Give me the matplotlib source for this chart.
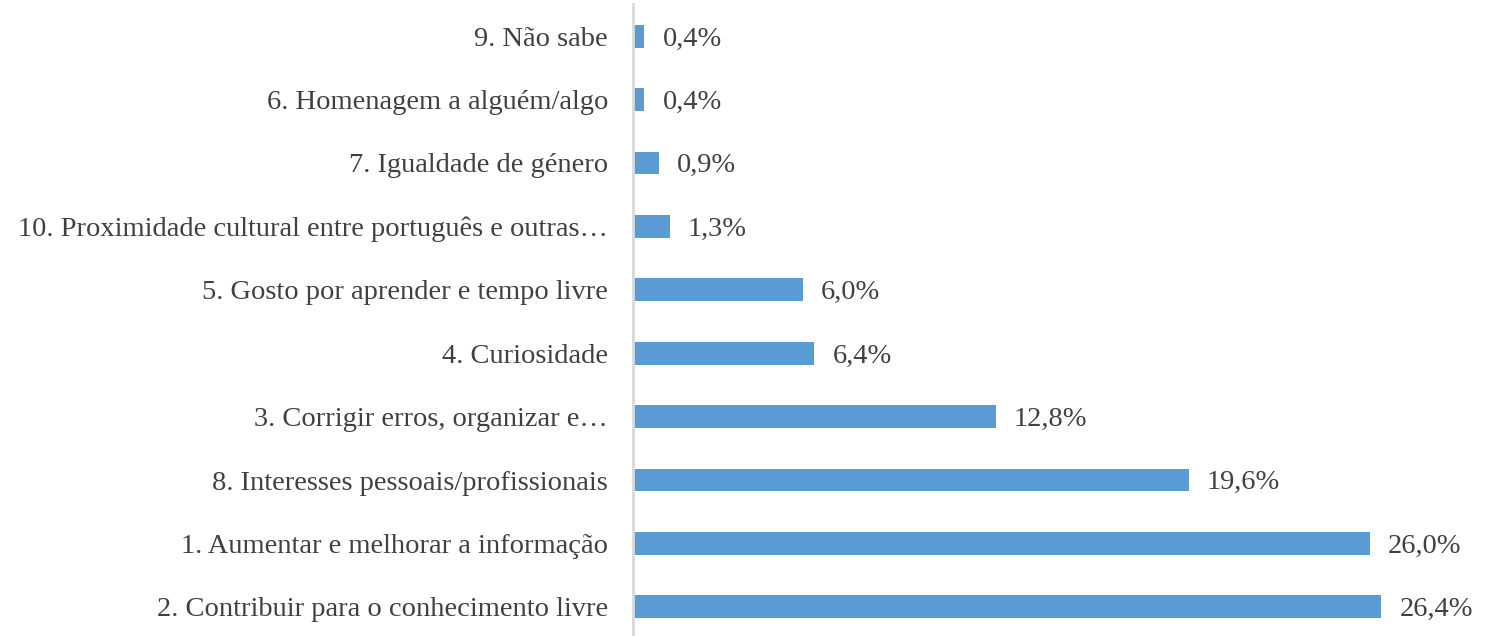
import matplotlib.pyplot as plt

# categories listed bottom to top
categorias = [
    "2. Contribuir para o conhecimento livre",
    "1. Aumentar e melhorar a informação",
    "8. Interesses pessoais/profissionais",
    "3. Corrigir erros, organizar e…",
    "4. Curiosidade",
    "5. Gosto por aprender e tempo livre",
    "10. Proximidade cultural entre português e outras…",
    "7. Igualdade de género",
    "6. Homenagem a alguém/algo",
    "9. Não sabe",
]
valores = [26.4, 26.0, 19.6, 12.8, 6.4, 6.0, 1.3, 0.9, 0.4, 0.4]

plt.rcParams['font.family'] = ['Liberation Serif', 'DejaVu Serif']
cor_texto = '#404040'

fig = plt.figure(figsize=(14.86, 6.36), dpi=100)
ax = fig.add_axes([0.426, -0.004, 0.534, 0.997])

pos = range(len(categorias))
ax.barh(pos, valores, height=0.36, color='#5b9bd5')
ax.set_ylim(-0.5, len(categorias) - 0.5)
ax.set_xlim(0, 28)

for y, v in zip(pos, valores):
    ax.annotate(f"{v:.1f}%".replace('.', ','), (v, y), xytext=(13, -2),
                textcoords='offset points', va='center', ha='left',
                fontsize=20.5, color=cor_texto)

ax.set_yticks(list(pos))
ax.set_yticklabels(categorias, fontsize=20.5, color=cor_texto)
ax.tick_params(axis='y', length=0, pad=18)
ax.set_xticks([])
for s in ['top', 'right', 'bottom']:
    ax.spines[s].set_visible(False)
ax.spines['left'].set_color('#d9d9d9')
ax.spines['left'].set_linewidth(2)

fig.savefig('out.png', dpi=100)
